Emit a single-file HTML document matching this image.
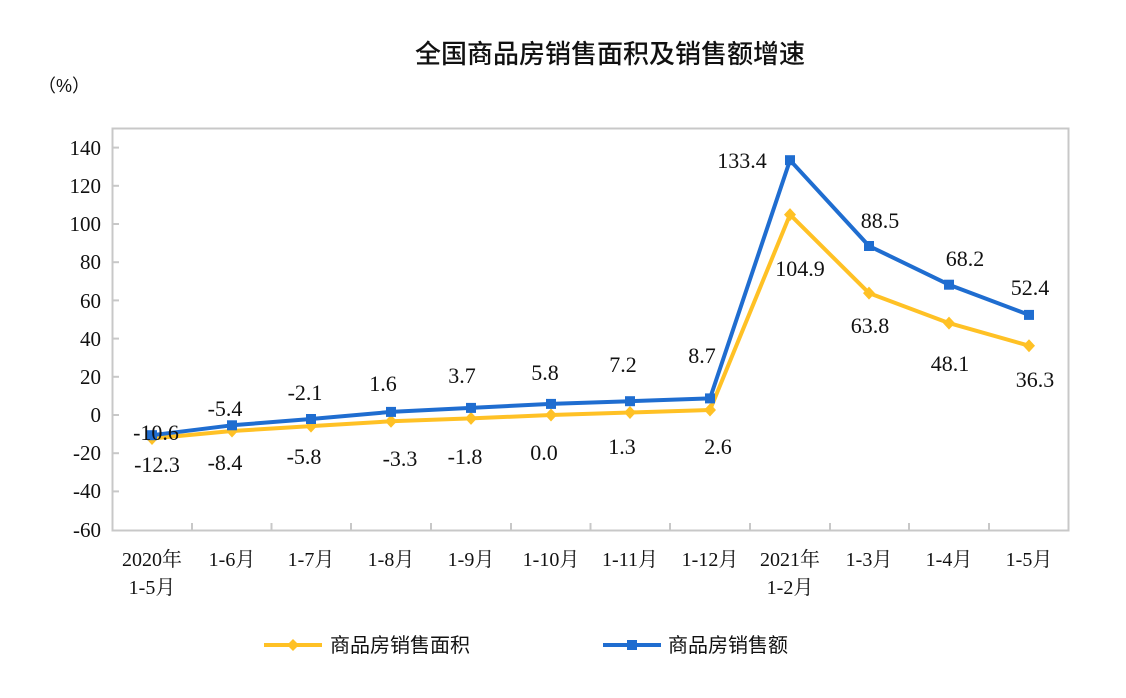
<!DOCTYPE html>
<html><head><meta charset="utf-8"><style>
body{margin:0;background:#fff;}
svg{display:block;}
.s{font-family:"Liberation Serif","Noto Serif CJK SC",serif;fill:#111;}
.c{font-family:"Liberation Sans","Noto Sans CJK SC",sans-serif;fill:#111;}
</style></head><body>
<svg width="1126" height="698" xmlns="http://www.w3.org/2000/svg">
<text x="610" y="63" text-anchor="middle" class="c" font-size="26" font-weight="500">全国商品房销售面积及销售额增速</text>
<text x="38" y="92" class="c" font-size="18">（%）</text>
<rect x="112.5" y="128.5" width="956" height="402" fill="none" stroke="#c8c8c8" stroke-width="2"/>
<g stroke="#c8c8c8" stroke-width="2">
<line x1="112" y1="147.6" x2="119" y2="147.6"/><line x1="112" y1="185.8" x2="119" y2="185.8"/><line x1="112" y1="224" x2="119" y2="224"/><line x1="112" y1="262.2" x2="119" y2="262.2"/><line x1="112" y1="300.4" x2="119" y2="300.4"/><line x1="112" y1="338.6" x2="119" y2="338.6"/><line x1="112" y1="376.8" x2="119" y2="376.8"/><line x1="112" y1="415" x2="119" y2="415"/><line x1="112" y1="453.2" x2="119" y2="453.2"/><line x1="112" y1="491.4" x2="119" y2="491.4"/>
<line x1="192" y1="530" x2="192" y2="523"/><line x1="271.5" y1="530" x2="271.5" y2="523"/><line x1="351" y1="530" x2="351" y2="523"/><line x1="431" y1="530" x2="431" y2="523"/><line x1="511" y1="530" x2="511" y2="523"/><line x1="590.5" y1="530" x2="590.5" y2="523"/><line x1="670" y1="530" x2="670" y2="523"/><line x1="750" y1="530" x2="750" y2="523"/><line x1="830" y1="530" x2="830" y2="523"/><line x1="909" y1="530" x2="909" y2="523"/><line x1="989" y1="530" x2="989" y2="523"/>
</g>
<g class="s" font-size="21" text-anchor="end">
<text x="101" y="155">140</text><text x="101" y="193">120</text><text x="101" y="231">100</text><text x="101" y="269">80</text><text x="101" y="308">60</text><text x="101" y="346">40</text><text x="101" y="384">20</text><text x="101" y="422">0</text><text x="101" y="460">-20</text><text x="101" y="498">-40</text><text x="101" y="537">-60</text>
</g>
<g class="s" font-size="20" text-anchor="middle">
<text x="152" y="566">2020年</text><text x="152" y="594">1-5月</text>
<text x="232" y="566">1-6月</text><text x="311" y="566">1-7月</text><text x="391" y="566">1-8月</text><text x="471" y="566">1-9月</text><text x="551" y="566">1-10月</text><text x="630" y="566">1-11月</text><text x="710" y="566">1-12月</text>
<text x="790" y="566">2021年</text><text x="790" y="594">1-2月</text>
<text x="869" y="566">1-3月</text><text x="949" y="566">1-4月</text><text x="1029" y="566">1-5月</text>
</g>
<polyline fill="none" stroke="#ffc125" stroke-width="4" stroke-linejoin="round" points="152,438.5 232,431 311,426.1 391,421.3 471,418.4 551,415 630,412.5 710,410 790,214.6 869,293.1 949,323.1 1029,345.7"/>
<g fill="#ffc125">
<path d="M152,432l6,6.5l-6,6.5l-6,-6.5z"/><path d="M232,424.5l6,6.5l-6,6.5l-6,-6.5z"/><path d="M311,419.6l6,6.5l-6,6.5l-6,-6.5z"/><path d="M391,414.8l6,6.5l-6,6.5l-6,-6.5z"/><path d="M471,411.9l6,6.5l-6,6.5l-6,-6.5z"/><path d="M551,408.5l6,6.5l-6,6.5l-6,-6.5z"/><path d="M630,406l6,6.5l-6,6.5l-6,-6.5z"/><path d="M710,403.5l6,6.5l-6,6.5l-6,-6.5z"/><path d="M790,208.1l6,6.5l-6,6.5l-6,-6.5z"/><path d="M869,286.6l6,6.5l-6,6.5l-6,-6.5z"/><path d="M949,316.6l6,6.5l-6,6.5l-6,-6.5z"/><path d="M1029,339.2l6,6.5l-6,6.5l-6,-6.5z"/>
</g>
<polyline fill="none" stroke="#1f6dd0" stroke-width="4" stroke-linejoin="round" points="152,435.2 232,425.3 311,419 391,411.9 471,407.9 551,403.9 630,401.2 710,398.4 790,160.2 869,246 949,284.7 1029,314.9"/>
<g fill="#1f6dd0">
<rect x="147" y="430.2" width="10" height="10"/><rect x="227" y="420.3" width="10" height="10"/><rect x="306" y="414" width="10" height="10"/><rect x="386" y="406.9" width="10" height="10"/><rect x="466" y="402.9" width="10" height="10"/><rect x="546" y="398.9" width="10" height="10"/><rect x="625" y="396.2" width="10" height="10"/><rect x="705" y="393.4" width="10" height="10"/><rect x="785" y="155.2" width="10" height="10"/><rect x="864" y="241" width="10" height="10"/><rect x="944" y="279.7" width="10" height="10"/><rect x="1024" y="309.9" width="10" height="10"/>
</g>
<g class="s" font-size="22" text-anchor="middle">
<text x="156" y="440">-10.6</text><text x="225" y="416">-5.4</text><text x="305" y="400">-2.1</text><text x="383" y="391">1.6</text><text x="462" y="383">3.7</text><text x="545" y="380">5.8</text><text x="623" y="372">7.2</text><text x="702" y="363">8.7</text><text x="742" y="168">133.4</text><text x="880" y="228">88.5</text><text x="965" y="266">68.2</text><text x="1030" y="295">52.4</text>
<text x="157" y="472">-12.3</text><text x="225" y="470">-8.4</text><text x="304" y="464">-5.8</text><text x="400" y="466">-3.3</text><text x="465" y="464">-1.8</text><text x="544" y="460">0.0</text><text x="622" y="454">1.3</text><text x="718" y="454">2.6</text><text x="800" y="276">104.9</text><text x="870" y="333">63.8</text><text x="950" y="371">48.1</text><text x="1035" y="387">36.3</text>
</g>
<line x1="264" y1="645" x2="322" y2="645" stroke="#ffc125" stroke-width="4"/>
<path d="M293,639l6,6l-6,6l-6,-6z" fill="#ffc125"/>
<text x="330" y="652" class="c" font-size="20">商品房销售面积</text>
<line x1="603" y1="645" x2="661" y2="645" stroke="#1f6dd0" stroke-width="4"/>
<rect x="627" y="640" width="10" height="10" fill="#1f6dd0"/>
<text x="668" y="652" class="c" font-size="20">商品房销售额</text>
</svg>
</body></html>
